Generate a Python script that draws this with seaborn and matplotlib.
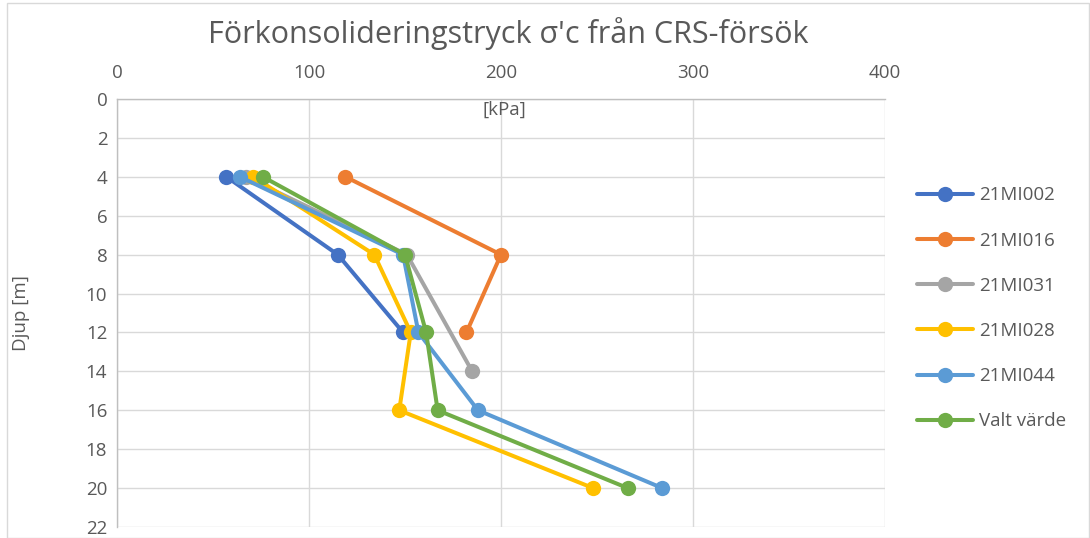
import matplotlib
matplotlib.use("Agg")
import matplotlib.pyplot as plt
import pandas as pd
import seaborn as sns

# depth [m] and preconsolidation pressure [kPa] per borehole
names = ["21MI002", "21MI016", "21MI031", "21MI028", "21MI044", "Valt värde"]
depth_002 = [4, 8, 12]
kpa_002 = [57, 115, 149]
depth_016 = [4, 8, 12]
kpa_016 = [119, 200, 182]
depth_031 = [4, 8, 14]
kpa_031 = [67, 151, 185]
depth_028 = [4, 8, 12, 16, 20]
kpa_028 = [71, 134, 153, 147, 248]
depth_044 = [4, 8, 12, 16, 20]
kpa_044 = [64, 149, 157, 188, 284]
depth_valt = [4, 8, 12, 16, 20]
kpa_valt = [76, 150, 161, 167, 266]

colors = ["#4472C4", "#ED7D31", "#A5A5A5", "#FFC000", "#5B9BD5", "#70AD47"]

rows = []
for name, d, k in zip(names,
                      [depth_002, depth_016, depth_031, depth_028, depth_044, depth_valt],
                      [kpa_002, kpa_016, kpa_031, kpa_028, kpa_044, kpa_valt]):
    for dd, kk in zip(d, k):
        rows.append({"serie": name, "djup": dd, "kpa": kk})
table = pd.DataFrame(rows)

sns.set_style("white")
plt.rcParams["font.family"] = ["Open Sans", "DejaVu Sans"]

fig = plt.figure(figsize=(10.9, 5.38), dpi=100)
ax = fig.add_axes([117 / 1090, 1 - 527 / 538, 768 / 1090, 428 / 538])

sns.lineplot(data=table, x="kpa", y="djup", hue="serie", palette=colors,
             hue_order=names, estimator=None, sort=False, marker="o",
             markersize=11, markeredgewidth=0, linewidth=2.9, ax=ax)

ax.set_xlim(0, 400)
ax.set_ylim(22, 0)
ax.set_xticks([0, 100, 200, 300, 400])
ax.set_yticks(range(0, 23, 2))
ax.xaxis.tick_top()
ax.tick_params(axis="both", length=0, labelsize=13.5, colors="#595959", pad=7)
ax.tick_params(axis="x", pad=12)
ax.grid(True, color="#D9D9D9", linewidth=1)
for s in ["right", "bottom"]:
    ax.spines[s].set_visible(False)
for s in ["left", "top"]:
    ax.spines[s].set_color("#BFBFBF")
    ax.spines[s].set_linewidth(1)
ax.set_axisbelow(True)

ax.set_xlabel("")
ax.set_ylabel("Djup [m]", fontsize=13.5, color="#595959", labelpad=40)
ax.text(0.505, 0.995, "[kPa]", transform=ax.transAxes, ha="center", va="top",
        fontsize=13.5, color="#595959")

fig.text(508 / 1090, 1 - 34 / 538, "Förkonsolideringstryck σ'c från CRS-försök",
         ha="center", va="center", fontsize=22, color="#595959")

handles, labels = ax.get_legend_handles_labels()
ax.legend(handles, labels, loc="upper left", bbox_to_anchor=(1.02, 0.835),
          frameon=False, fontsize=13.5, labelcolor="#595959",
          handlelength=3.0, labelspacing=1.45, handletextpad=0.3)

fig.patches.append(plt.Rectangle((0.006, 0.0), 0.993, 0.994, transform=fig.transFigure,
                                 fill=False, edgecolor="#D9D9D9", linewidth=1))

plt.savefig("out.png", dpi=100)
